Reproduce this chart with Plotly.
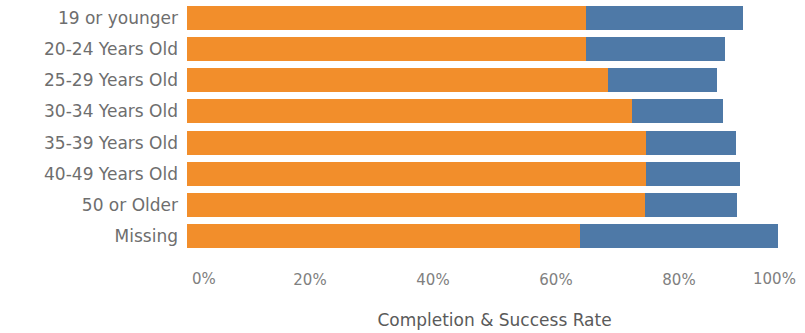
import plotly.graph_objects as go

categories = ["19 or younger", "20-24 Years Old", "25-29 Years Old", "30-34 Years Old",
              "35-39 Years Old", "40-49 Years Old", "50 or Older", "Missing"]
completion_rate = [0.648, 0.648, 0.685, 0.723, 0.747, 0.747, 0.744, 0.639]
success_extra = [0.256, 0.226, 0.177, 0.149, 0.145, 0.152, 0.151, 0.322]
x_ticks = [0, 0.2, 0.4, 0.6, 0.8, 1.0]
x_tick_labels = ["0%", "20%", "40%", "60%", "80%", "100%"]

FONT = "DejaVu Sans"
TICK_COLOR = "#808080"

fig = go.Figure()
fig.add_trace(go.Bar(y=categories, x=completion_rate, orientation="h",
                     marker=dict(color="#F28E2B", line=dict(width=0)), name="Completion"))
fig.add_trace(go.Bar(y=categories, x=success_extra, orientation="h",
                     marker=dict(color="#4E79A7", line=dict(width=0)), name="Success"))

# inner tick labels via the axis; edge labels anchored inward like the original
inner_vals = x_ticks[1:-1]
inner_text = x_tick_labels[1:-1]
fig.add_annotation(x=x_ticks[0], xref="x", y=0, yref="paper", yshift=-27,
                   text=x_tick_labels[0], showarrow=False, xanchor="left", yanchor="middle",
                   xshift=3, font=dict(family=FONT, size=15, color=TICK_COLOR))
fig.add_annotation(x=x_ticks[-1], xref="x", y=0, yref="paper", yshift=-27,
                   text=x_tick_labels[-1], showarrow=False, xanchor="right", yanchor="middle",
                   xshift=-4, font=dict(family=FONT, size=15, color=TICK_COLOR))

fig.update_layout(
    barmode="stack", bargap=0.23, showlegend=False,
    width=805, height=333,
    margin=dict(l=187, r=3, t=2, b=81),
    paper_bgcolor="white", plot_bgcolor="white",
    font=dict(family=FONT, color="#666666"),
)
fig.update_xaxes(range=[0, 1.0], tickvals=inner_vals, ticktext=inner_text,
                 showgrid=False, zeroline=False, showline=False,
                 ticklabelstandoff=17,
                 tickfont=dict(size=15, color=TICK_COLOR),
                 title=dict(text="Completion & Success Rate",
                            font=dict(size=17, color="#5a5a5a"), standoff=26))
fig.update_yaxes(autorange="reversed", showgrid=False, zeroline=False, showline=False,
                 tickfont=dict(size=17, color="#6e6e6e"), ticklabelstandoff=8)

fig.write_html("out.html", config={"displayModeBar": False},
               post_script="document.body.style.margin='0';")
